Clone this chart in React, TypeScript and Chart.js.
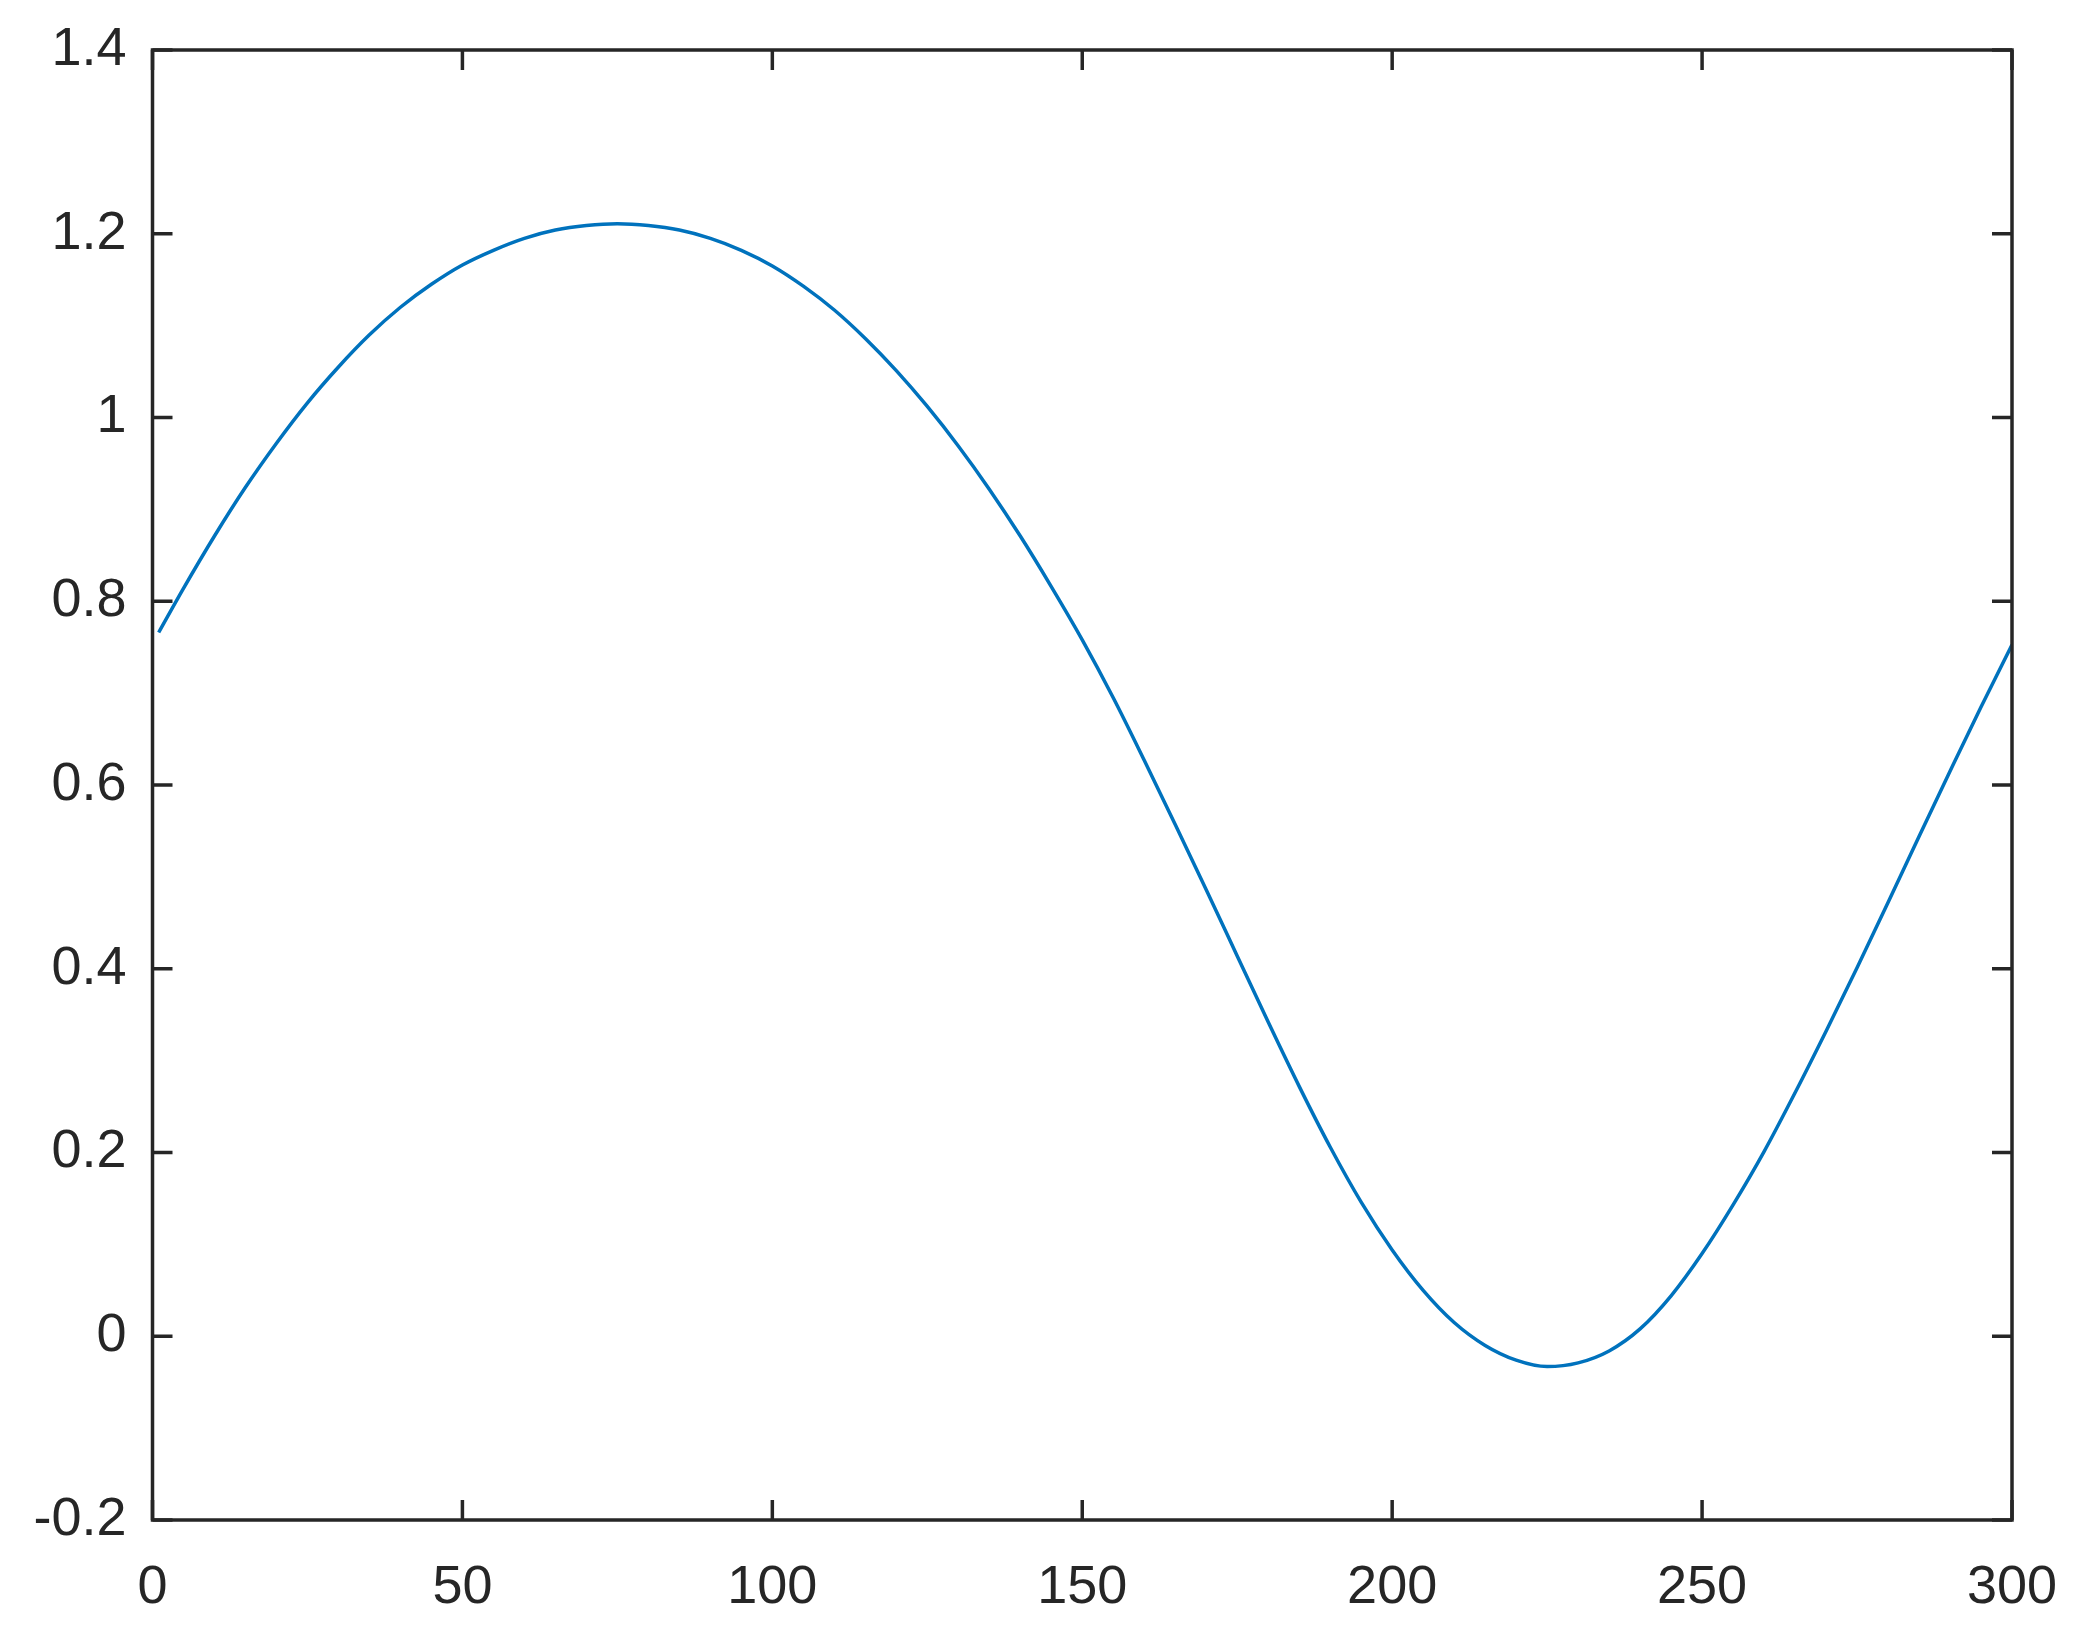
import React, { useEffect, useRef } from "react";
import { Chart, registerables } from "chart.js";

Chart.register(...registerables);

// Sample positions (x) and curve values (y)
const xValues = [
  1, 5, 10, 15, 20, 25, 30, 35, 40, 45, 50, 55, 60, 65, 70, 75, 80, 85, 90, 95,
  100, 105, 110, 115, 120, 125, 130, 135, 140, 145, 150, 155, 160, 165, 170,
  175, 180, 185, 190, 195, 200, 205, 210, 215, 220, 225, 230, 235, 240, 245,
  250, 255, 260, 265, 270, 275, 280, 285, 290, 295, 300,
];
const yValues = [
  0.766, 0.814, 0.871, 0.924, 0.972, 1.016, 1.055, 1.09, 1.12, 1.145, 1.166,
  1.182, 1.195, 1.204, 1.209, 1.211, 1.209, 1.204, 1.195, 1.182, 1.165, 1.143,
  1.117, 1.086, 1.051, 1.012, 0.969, 0.922, 0.871, 0.816, 0.758, 0.695, 0.627,
  0.557, 0.486, 0.414, 0.342, 0.272, 0.206, 0.146, 0.094, 0.05, 0.015, -0.01,
  -0.026, -0.033, -0.029, -0.016, 0.008, 0.044, 0.09, 0.143, 0.201, 0.265,
  0.332, 0.401, 0.472, 0.544, 0.615, 0.685, 0.7525,
];
const xTicks = [0, 50, 100, 150, 200, 250, 300];
const yTicks = [-0.2, 0, 0.2, 0.4, 0.6, 0.8, 1, 1.2, 1.4];

const AXIS_COLOR = "#262626";
const LINE_COLOR = "#0072BD";
const FONT_FAMILY = "'Liberation Sans', Arial, Helvetica, sans-serif";

const boxPlugin = {
  id: "matlabBox",
  afterDraw(chart: any) {
    const { ctx, chartArea } = chart;
    const { left, right, top, bottom } = chartArea;
    const xs = chart.scales.x;
    const ys = chart.scales.y;
    const L = 20;
    ctx.save();
    ctx.strokeStyle = AXIS_COLOR;
    ctx.lineWidth = 3.5;
    ctx.lineCap = "butt";
    ctx.beginPath();
    for (const t of xs.ticks) {
      const px = xs.getPixelForValue(t.value);
      ctx.moveTo(px, bottom);
      ctx.lineTo(px, bottom - L);
      ctx.moveTo(px, top);
      ctx.lineTo(px, top + L);
    }
    for (const t of ys.ticks) {
      const py = ys.getPixelForValue(t.value);
      ctx.moveTo(left, py);
      ctx.lineTo(left + L, py);
      ctx.moveTo(right, py);
      ctx.lineTo(right - L, py);
    }
    ctx.stroke();
    ctx.lineJoin = "miter";
    ctx.strokeRect(left, top, right - left, bottom - top);
    ctx.restore();
  },
};

export default function App() {
  const canvasRef = useRef<HTMLCanvasElement | null>(null);

  useEffect(() => {
    const canvas = canvasRef.current;
    if (!canvas) return;
    const points = xValues.map((x, i) => ({ x, y: yValues[i] }));
    const chart = new Chart(canvas, {
      type: "line",
      data: {
        datasets: [
          {
            data: points,
            borderColor: LINE_COLOR,
            borderWidth: 3.5,
            pointRadius: 0,
            fill: false,
            cubicInterpolationMode: "monotone",
          },
        ],
      },
      options: {
        animation: false,
        responsive: false,
        devicePixelRatio: 1,
        plugins: {
          legend: { display: false },
          tooltip: { enabled: false },
        },
        layout: { padding: { left: 0, top: 50, right: 68, bottom: 0 } },
        scales: {
          x: {
            type: "linear",
            min: 0,
            max: 300,
            afterBuildTicks: (scale: any) => {
              scale.ticks = xTicks.map((v) => ({ value: v }));
            },
            afterFit: (scale: any) => {
              scale.height = 117;
              scale.paddingLeft = 0;
              scale.paddingRight = 0;
              scale.paddingTop = 0;
              scale.paddingBottom = 0;
            },
            grid: { display: false, drawTicks: false },
            border: { display: false },
            ticks: {
              color: AXIS_COLOR,
              font: { family: FONT_FAMILY, size: 54 },
              padding: 36,
              maxRotation: 0,
              autoSkip: false,
              callback: (v: any) => String(v),
            },
          },
          y: {
            type: "linear",
            min: -0.2,
            max: 1.4,
            afterBuildTicks: (scale: any) => {
              scale.ticks = yTicks.map((v) => ({ value: v }));
            },
            afterFit: (scale: any) => {
              scale.width = 152.5;
              scale.paddingLeft = 0;
              scale.paddingRight = 0;
              scale.paddingTop = 0;
              scale.paddingBottom = 0;
            },
            grid: { display: false, drawTicks: false },
            border: { display: false },
            ticks: {
              color: AXIS_COLOR,
              font: { family: FONT_FAMILY, size: 54 },
              padding: 26,
              autoSkip: false,
              callback: (v: any) => String(Number(Number(v).toFixed(1))),
            },
          },
        },
      },
      plugins: [boxPlugin],
    });
    return () => chart.destroy();
  }, []);

  return (
    <div
      style={{
        position: "absolute",
        left: 0,
        top: 0,
        width: 2080,
        height: 1637,
        background: "#ffffff",
      }}
    >
      <canvas ref={canvasRef} width={2080} height={1637} />
    </div>
  );
}
